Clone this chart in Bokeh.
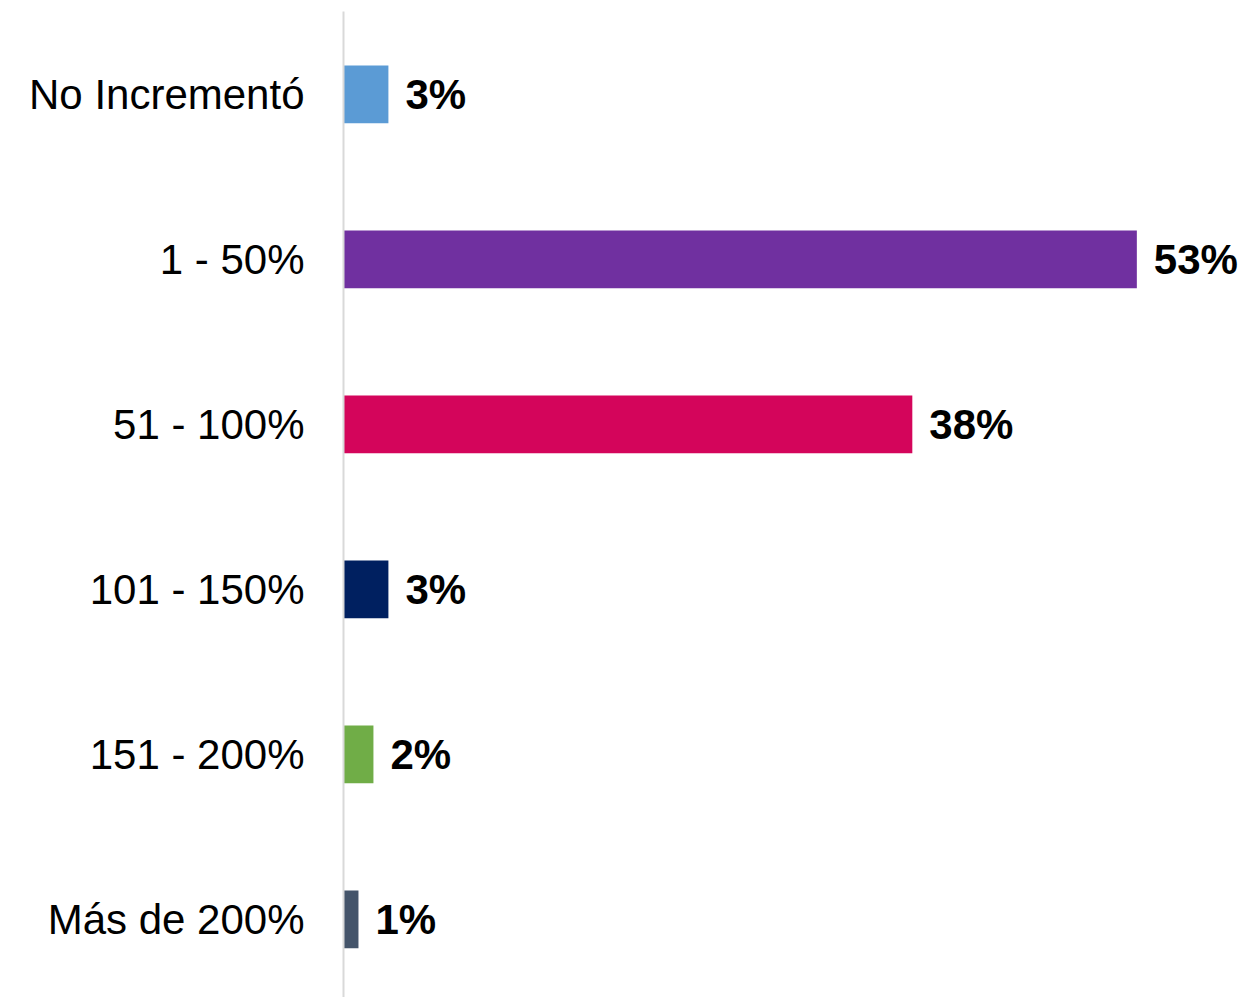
from bokeh.plotting import figure
from bokeh.models import ColumnDataSource, Range1d, FixedTicker, LabelSet
from bokeh.core.properties import value
from bokeh.embed import file_html
from bokeh.resources import INLINE

categories = ["No Incrementó", "1 - 50%", "51 - 100%", "101 - 150%", "151 - 200%", "Más de 200%"]
values = [3, 53, 38, 3, 2, 1]
colors = ["#5B9BD5", "#7030A0", "#D4055B", "#002060", "#70AD47", "#44546A"]

ypos = list(range(len(categories)))
labels = [f"{v}%" for v in values]

src = ColumnDataSource(dict(y=ypos, v=values, c=colors, lab=labels))

p = figure(width=1254, height=997, output_backend="svg", toolbar_location=None,
           x_range=Range1d(0, 60.86), y_range=Range1d(5.473, -0.503),
           min_border_left=343, min_border_right=0, min_border_top=11, min_border_bottom=0)
p.outline_line_color = None
p.background_fill_color = "white"
p.border_fill_color = "white"

p.hbar(y="y", right="v", left=0, height=0.35, color="c", line_color=None, source=src)

ls = LabelSet(x="v", y="y", text="lab", source=src, x_offset=17,
              text_font=value("Liberation Sans"), text_font_size=value("42px"),
              text_font_style=value("bold"),
              text_baseline=value("middle"), text_align=value("left"), text_color=value("black"))
p.add_layout(ls)

p.xaxis.visible = False
p.xgrid.visible = False
p.ygrid.visible = False

ax = p.yaxis[0]
ax.ticker = FixedTicker(ticks=ypos)
ax.major_label_overrides = {i: c for i, c in enumerate(categories)}
ax.major_label_text_font = "Liberation Sans"
ax.major_label_text_font_size = "42px"
ax.major_label_text_color = "black"
ax.major_tick_line_color = None
ax.minor_tick_line_color = None
ax.major_label_standoff = 33
ax.axis_line_color = "#D9D9D9"
ax.axis_line_width = 2

open("out.html", "w").write(file_html(p, INLINE))
